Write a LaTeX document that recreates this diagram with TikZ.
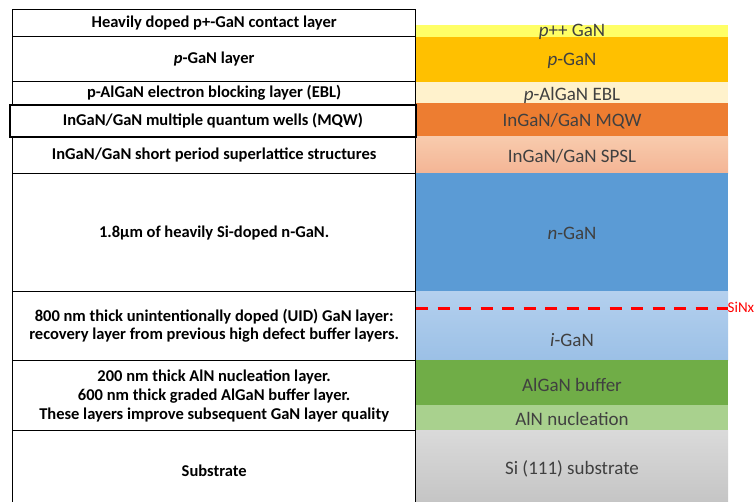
\documentclass[tikz,border=0pt]{standalone}
\usepackage{fontspec}
\setmainfont{Carlito}
\definecolor{cppp}{HTML}{FFFF66}
\definecolor{cpgan}{HTML}{FFC000}
\definecolor{cebl}{HTML}{FFF2CC}
\definecolor{cmqw}{HTML}{ED7D31}
\definecolor{cspsltop}{HTML}{F8CBAD}
\definecolor{cspslbot}{HTML}{F4B595}
\definecolor{cngan}{HTML}{5B9BD5}
\definecolor{cigantop}{HTML}{B4D0EE}
\definecolor{ciganbot}{HTML}{9BC0E6}
\definecolor{cbuf}{HTML}{70AD47}
\definecolor{cnuc}{HTML}{A9D18E}
\definecolor{csubtop}{HTML}{DADADA}
\definecolor{csubbot}{HTML}{C4C4C4}
\definecolor{ctext}{HTML}{404040}
\definecolor{csinx}{HTML}{FF0000}
\tikzset{
  descbox/.style={draw=black, line width=1.3pt, anchor=north west, inner sep=0pt,
    minimum width=403pt, font=\fontsize{16.5}{18.5}\selectfont\bfseries, align=center},
  layerbox/.style={anchor=north west, inner sep=0pt, minimum width=312pt},
  layertext/.style={font=\fontsize{19}{21}\selectfont, text=ctext, inner sep=0pt},
}
\begin{document}
\begin{tikzpicture}[x=1pt,y=-1pt]
\useasboundingbox (0,0) rectangle (755,501);
\begin{scope}
\clip (0,0) rectangle (755,501);
% right column layers
\node[layerbox, fill=cppp, minimum height=12pt] (rppp) at (416,25) {};
\node[layerbox, fill=cpgan, minimum height=45pt] (rpgan) at (416,37) {};
\node[layerbox, fill=cebl, minimum height=21pt] (rebl) at (416,82) {};
\node[layerbox, fill=cmqw, minimum height=33pt] (rmqw) at (416,103) {};
\node[layerbox, top color=cspsltop, bottom color=cspslbot, minimum height=37pt] (rspsl) at (416,136) {};
\node[layerbox, fill=cngan, minimum height=118pt] (rngan) at (416,173) {};
\node[layerbox, top color=cigantop, bottom color=ciganbot, minimum height=69pt] (rigan) at (416,291) {};
\node[layerbox, fill=cbuf, minimum height=45pt] (rbuf) at (416,360) {};
\node[layerbox, fill=cnuc, minimum height=25pt] (rnuc) at (416,405) {};
\node[layerbox, top color=csubtop, bottom color=csubbot, minimum height=75pt] (rsub) at (416,430) {};
\node[layertext] (tppp) at (572,32) {\textit{p}++ GaN};
\node[layertext] (tpgan) at (572,61) {\textit{p}-GaN};
\node[layertext] (tebl) at (572,95) {\textit{p}-AlGaN EBL};
\node[layertext] (tmqw) at (572,121) {InGaN/GaN MQW};
\node[layertext] (tspsl) at (572,156) {InGaN/GaN SPSL};
\node[layertext] (tngan) at (572,233) {\textit{n}-GaN};
\node[layertext] (tigan) at (572,340) {\textit{i}-GaN};
\node[layertext] (tbuf) at (572,385) {AlGaN buffer};
\node[layertext] (tnuc) at (572,419) {AlN nucleation};
\node[layertext] (tsub) at (572,469) {Si (111) substrate};
% SiNx dashed line
\coordinate (sinxa) at (416,308);
\coordinate (sinxb) at (728,308);
\draw[csinx, line width=3pt, dash pattern=on 12pt off 9.5pt] (sinxa) -- (sinxb);
\node[text=csinx, font=\fontsize{15}{16}\selectfont, anchor=west, inner sep=0pt] (sinx) at (727.5,307) {SiNx};
% left description boxes
\node[descbox, minimum height=27pt] (l1) at (12,9) {Heavily doped p+-GaN contact layer};
\node[descbox, minimum height=45pt] (l2) at (12,36) {\textit{p}-GaN layer};
\node[descbox, minimum height=23pt] (l3) at (12,81) {p-AlGaN electron blocking layer (EBL)};
\node[descbox, minimum height=37pt] (l5) at (12,136) {InGaN/GaN short period superlattice structures};
\node[descbox, minimum height=118pt] (l6) at (12,173) {1.8µm of heavily Si-doped n-GaN.};
\node[descbox, minimum height=69pt, font=\fontsize{16.5}{18}\selectfont\bfseries] (l7) at (12,291) {800 nm thick unintentionally doped (UID) GaN layer:\\recovery layer from previous high defect buffer layers.};
\node[descbox, minimum height=70pt, font=\fontsize{16.5}{19}\selectfont\bfseries] (l8) at (12,360) {200 nm thick AlN nucleation layer.\\600 nm thick graded AlGaN buffer layer.\\These layers improve subsequent GaN layer quality};
\node[descbox, minimum height=80pt] (l9) at (12,430) {Substrate};
\node[descbox, minimum width=406pt, minimum height=32pt, line width=1.8pt] (l4) at (9,104) {InGaN/GaN multiple quantum wells (MQW)};
\end{scope}
\end{tikzpicture}
\end{document}
